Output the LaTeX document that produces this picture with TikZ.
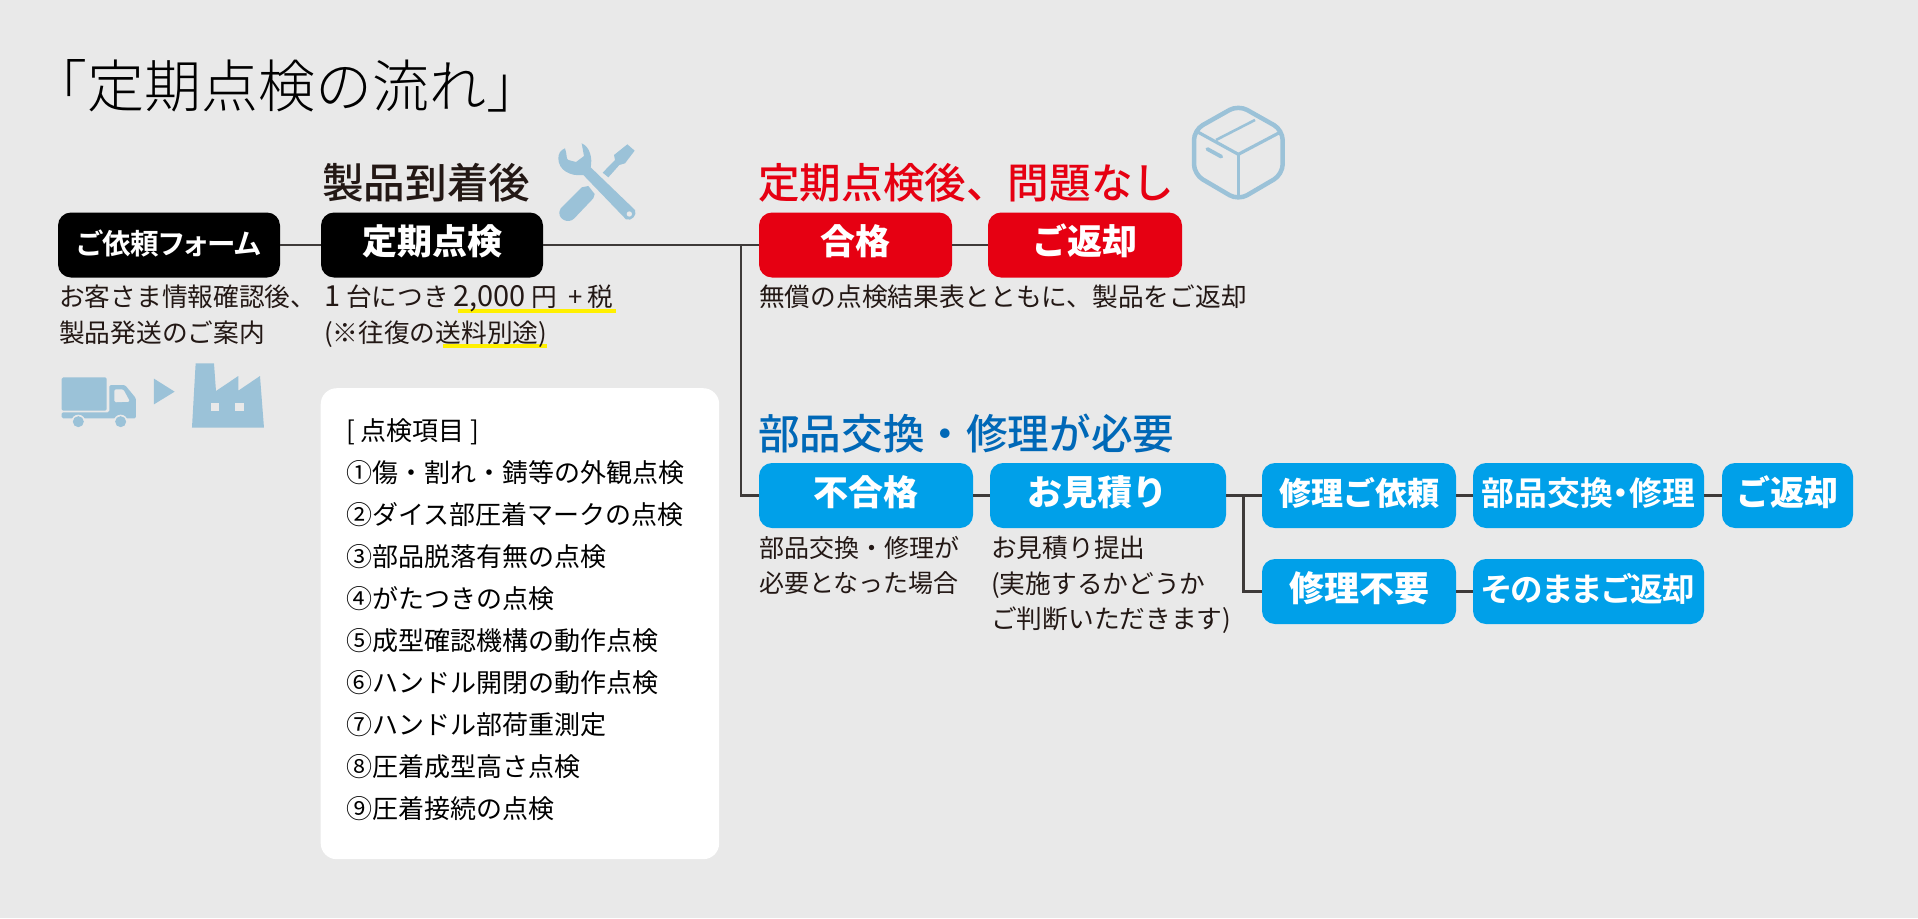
\documentclass[tikz,border=0pt]{standalone}
\usepackage{fontspec}
\setmainfont{Noto Sans CJK JP}
\newfontfamily\lightjp{Noto Sans CJK JP Light}
\newfontfamily\mediumjp{Noto Sans CJK JP Medium}
\newfontfamily\boldpalt[RawFeature=+palt]{Noto Sans CJK JP Bold}
\usepackage{tikz}
\newcommand{\widenum}[1]{{\fontsize{29}{35.3}\selectfont #1}}
\definecolor{bggray}{HTML}{E9E9E9}
\definecolor{flowline}{HTML}{3E3A39}
\definecolor{inkblack}{HTML}{231815}
\definecolor{okred}{HTML}{E60012}
\definecolor{ngblue}{HTML}{00A0E9}
\definecolor{headblue}{HTML}{0068B7}
\definecolor{iconblue}{HTML}{9BC2D8}
\definecolor{markyellow}{HTML}{FFF000}
\tikzset{
	flowbox/.style={rounded corners=13pt,inner sep=0pt,minimum height=65pt,text height=26pt,text depth=6.4pt,text=white,font=\fontsize{35}{40}\selectfont\bfseries},
	blackbox/.style={flowbox,fill=black},
	redbox/.style={flowbox,fill=okred},
	bluebox/.style={flowbox,fill=ngblue},
	flowedge/.style={draw=flowline,line width=2.4pt},
	heading/.style={anchor=base west,inner sep=0pt,font=\fontsize{41.6}{46}\selectfont\mediumjp},
	note/.style={anchor=north west,inner sep=0pt,align=left,text=inkblack,font=\fontsize{25.7}{35.3}\selectfont},
	marker/.style={draw=markyellow,line width=4pt}
}
\begin{document}
\begin{tikzpicture}[x=1pt,y=-1pt]
	\useasboundingbox (0,0) rectangle (1918,918);
	\fill[bggray] (0,0) rectangle (1918,918);
	\node[anchor=base west,inner sep=0pt,text=black,font=\fontsize{57}{60}\selectfont\lightjp] (title) at (30,107) {「定期点検の流れ」};

	\node[heading,text=inkblack] (arrival) at (322,198) {製品到着後};
	\node[heading,text=okred] (okhead) at (758,198) {定期点検後、問題なし};
	\node[heading,text=headblue] (nghead) at (758,449) {部品交換・修理が必要};

	\node[blackbox,minimum width=222pt,font=\fontsize{28.5}{34}\selectfont\boldpalt] (form) at (169,245) {ご依頼フォーム};
	\node[blackbox,minimum width=222pt] (check) at (432,245) {定期点検};
	\node[redbox,minimum width=193pt] (pass) at (855.5,245) {合格};
	\node[redbox,minimum width=194pt] (back) at (1085,245) {ご返却};
	\node[bluebox,minimum width=214pt] (fail) at (866,495.5) {不合格};
	\node[bluebox,minimum width=236pt] (quote) at (1108,495.5) {お見積り\hspace*{21pt}};
	\node[bluebox,minimum width=194pt,font=\fontsize{32}{36}\selectfont\bfseries] (request) at (1359,495.5) {修理ご依頼};
	\node[bluebox,minimum width=231pt,font=\fontsize{32.8}{36}\selectfont\boldpalt] (repair) at (1588.5,495.5) {部品交換・修理};
	\node[bluebox,minimum width=131pt,font=\fontsize{34}{38}\selectfont\bfseries] (backb) at (1787.5,495.5) {ご返却};
	\node[bluebox,minimum width=194pt] (norepair) at (1359,591.5) {修理不要};
	\node[bluebox,minimum width=231pt,font=\fontsize{32.6}{36}\selectfont\boldpalt] (asis) at (1588.5,591.5) {そのままご返却};

	\coordinate (okjoint) at (741,245);
	\coordinate (ngjoint) at (1243.5,495.5);
	\draw[flowedge] (form) -- (check);
	\draw[flowedge] (check) -- (pass);
	\draw[flowedge] (pass) -- (back);
	\draw[flowedge] (okjoint) -- (okjoint |- fail) -- (fail);
	\draw[flowedge] (fail) -- (quote);
	\draw[flowedge] (quote) -- (request);
	\draw[flowedge] (request) -- (repair);
	\draw[flowedge] (repair) -- (backb);
	\draw[flowedge] (ngjoint) -- (ngjoint |- norepair) -- (norepair);
	\draw[flowedge] (norepair) -- (asis);

	\draw[marker] (458,311) -- (616,311);
	\draw[marker] (443,346) -- (547,346);
	\node[note] (formnote) at (59,285) {お客さま情報確認後、\\製品発送のご案内};
	\node[note] (checknote) at (324,285) {\widenum{1} 台につき\hspace{-1.4pt} \widenum{2,000}\hspace{0pt} 円\hspace{6pt} +\hspace{-1.5pt} 税\\(※往復の送料別途)};
	\node[note] (passnote) at (759,285) {無償の点検結果表とともに、製品をご返却};
	\node[note,font=\fontsize{25}{35.3}\selectfont] (failnote) at (759,536) {部品交換・修理が\\必要となった場合};
	\node[note] (quotenote) at (991,536) {お見積り提出\\(実施するかどうか\\ご判断いただきます)};

	\node[fill=white,rounded corners=16pt,inner sep=0pt,minimum width=398.5pt,minimum height=471pt,anchor=north west] (panel) at (320.5,388) {};
	\node[anchor=north west,inner sep=0pt,align=left,text=black,font=\fontsize{26}{42.1}\selectfont] (items) at (346,418) {[ 点検項目 ]\\①傷・割れ・錆等の外観点検\\②ダイス部圧着マークの点検\\③部品脱落有無の点検\\④がたつきの点検\\⑤成型確認機構の動作点検\\⑥ハンドル開閉の動作点検\\⑦ハンドル部荷重測定\\⑧圧着成型高さ点検\\⑨圧着接続の点検};

	\begin{scope}[shift={(540,130)},x=0.3333pt,y=-0.3333pt]
		\fill[iconblue] (75,55) .. controls (82,75) and (78,88) .. (85,90) -- (108,96) -- (132,78) -- (125,40) .. controls (150,50) and (158,85) .. (152,112) -- (285,240) .. controls (292,255) and (275,275) .. (258,268) -- (130,135) .. controls (90,140) and (55,120) .. (55,85) .. controls (55,70) and (62,60) .. (75,55) -- cycle;
		\fill[bggray] (268,252) circle (8);
		\fill[iconblue] (188,128) -- (225,90) -- (222,75) -- (262,43) -- (284,62) -- (255,100) -- (238,105) -- (205,142) -- cycle;
		\fill[iconblue] (125,172) -- (145,168) -- (164,192) -- (160,205) -- (103,265) .. controls (85,285) and (45,265) .. (62,235) -- cycle;
	\end{scope}

	\begin{scope}[shift={(50,350)},x=0.3333pt,y=-0.3333pt]
		\fill[iconblue,rounded corners=1.5pt] (35,82) rectangle (170,182);
		\fill[iconblue,rounded corners=1.5pt] (178,105) -- (225,105) -- (258,145) -- (258,205) -- (35,205) -- (35,187) -- (178,187) -- cycle;
		\fill[bggray,rounded corners=1.5pt] (193,118) -- (220,118) -- (240,155) -- (193,157) -- cycle;
		\foreach \x in {85,212} {
			\fill[bggray] (\x,215) circle (21);
			\fill[iconblue] (\x,215) circle (16.5);
		}
		\fill[iconblue] (312,86) -- (374,125) -- (312,163) -- cycle;
		\fill[iconblue] (437,40) -- (492,40) -- (498,123) -- (565,78) -- (565,122) -- (630,78) -- (642,233) -- (426,233) -- cycle;
		\foreach \x in {482,556}
			\fill[bggray] (\x,158) rectangle (\x+26,184);
	\end{scope}

	\begin{scope}[shift={(1180,95)},x=0.3333pt,y=-0.3333pt]
		\draw[iconblue,line width=4.5pt,rounded corners=10pt] (175,30) -- (308,105) -- (308,238) -- (175,316) -- (42,238) -- (42,105) -- cycle;
		\draw[iconblue,line width=3.2pt] (55,112) -- (175,178) -- (300,112);
		\draw[iconblue,line width=3.2pt] (175,178) -- (175,300);
		\draw[iconblue,line width=2.6pt] (108,135) -- (225,75);
		\draw[iconblue,line width=3.8pt,line cap=round] (82,162) -- (124,185);
	\end{scope}
\end{tikzpicture}
\end{document}
